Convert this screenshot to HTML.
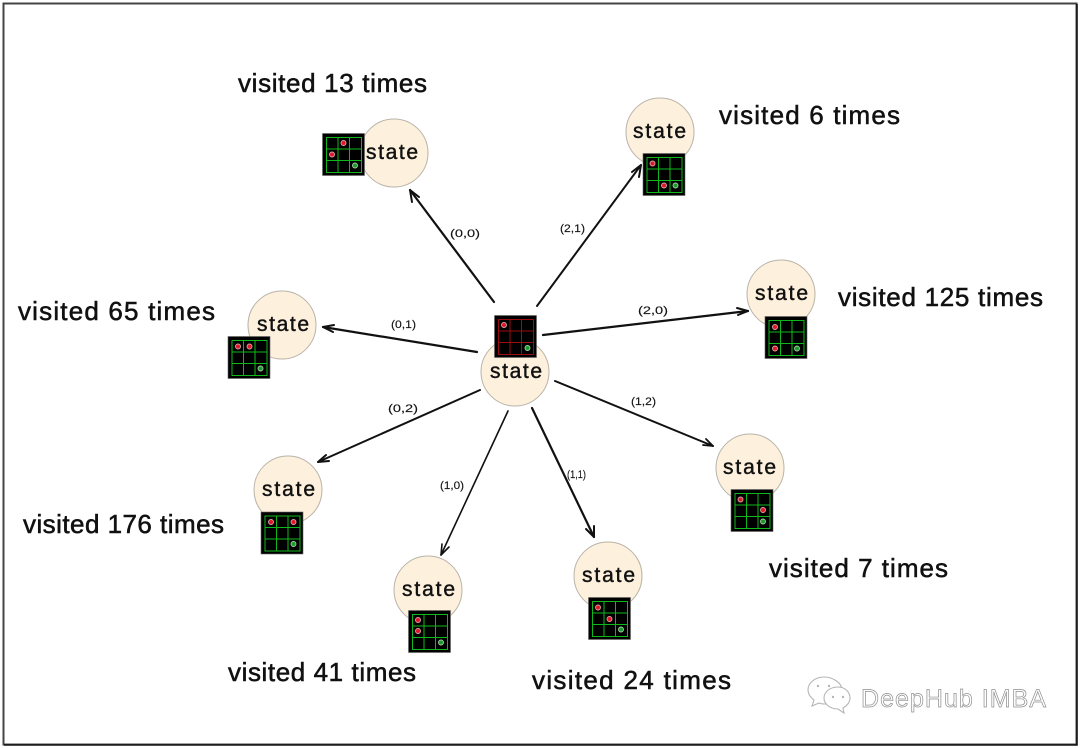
<!DOCTYPE html>
<html><head><meta charset="utf-8"><style>
html,body{margin:0;padding:0;background:#fff;width:1080px;height:748px;overflow:hidden}
svg{display:block}
text{font-family:"Liberation Sans",sans-serif;fill:#111}
.v{font-size:26px;stroke:#111;stroke-width:.55px}
.s{font-size:21px;stroke:#111;stroke-width:.45px}
.e{font-size:11px;stroke:#222;stroke-width:.15px}
.n{fill:#fdf1de;stroke:#b9b3a8;stroke-width:1}
.a{stroke:#111;fill:none;stroke-linecap:round;stroke-linejoin:round}
.r{fill:#e0162b;stroke:#d9a5a5;stroke-width:.9}
.g{fill:#1c9a2c;stroke:#a9cfa9;stroke-width:.9}
</style></head><body>
<svg width="1080" height="748" viewBox="0 0 1080 748" xmlns="http://www.w3.org/2000/svg">
<defs>
<g id="bg"><rect x="0" y="0" width="42" height="42" fill="#000" stroke="#666" stroke-width=".6"/>
<path d="M4 4h35v35H4zM15.500 4v35M27 4v35M4 15.500h35M4 27h35" fill="none" stroke="#0fb81a" stroke-width="1"/></g>
<g id="br"><rect x="0" y="0" width="42" height="42" fill="#000" stroke="#666" stroke-width=".6"/>
<path d="M4 4h35v35H4zM15.500 4v35M27 4v35M4 15.500h35M4 27h35" fill="none" stroke="#9c0d12" stroke-width="1"/></g>
</defs>
<rect width="1080" height="748" fill="#fff"/>
<path d="M3.500 3.500H1076.500V744.500H3.500Z" fill="none" stroke="#444" stroke-width="2"/>
<path d="M1077 4V745H4" fill="none" stroke="#111" stroke-width="1.600"/>

<!-- connectors -->
<path class="a" stroke-width="2.200" d="M494 302L410 190"/><path class="a" stroke-width="2" d="M419 197L410 190L412 202"/>
<path class="a" stroke-width="2" d="M537 306L641 165"/><path class="a" stroke-width="2" d="M632 172L641 165L639 177"/>
<path class="a" stroke-width="2.200" d="M543 335L748 311"/><path class="a" stroke-width="2" d="M737 308L748 311L738 315"/>
<path class="a" stroke-width="2.200" d="M477 352L323 327"/><path class="a" stroke-width="2" d="M334 325L323 327L333 332"/>
<path class="a" stroke-width="2" d="M480 390L318 462"/><path class="a" stroke-width="2" d="M326 455L318 462L329 461"/>
<path class="a" stroke-width="1.600" d="M508 411L441 555"/><path class="a" stroke-width="1.600" d="M442 544L441 555L449 547"/>
<path class="a" stroke-width="2.200" d="M532 408L594 537"/><path class="a" stroke-width="2" d="M586 529L594 537L594 526"/>
<path class="a" stroke-width="2" d="M555 381L713 446"/><path class="a" stroke-width="1.800" d="M703 445L713 446L706 439"/>

<text class="e" x="450" y="237" textLength="30" lengthAdjust="spacingAndGlyphs">(0,0)</text>
<text class="e" x="560" y="232" textLength="25" lengthAdjust="spacingAndGlyphs">(2,1)</text>
<text class="e" x="638" y="314" textLength="30" lengthAdjust="spacingAndGlyphs">(2,0)</text>
<text class="e" x="391" y="328" textLength="25" lengthAdjust="spacingAndGlyphs">(0,1)</text>
<text class="e" x="388" y="412" textLength="30" lengthAdjust="spacingAndGlyphs">(0,2)</text>
<text class="e" x="631" y="405" textLength="25" lengthAdjust="spacingAndGlyphs">(1,2)</text>
<text class="e" x="440" y="489" textLength="24" lengthAdjust="spacingAndGlyphs">(1,0)</text>
<text class="e" x="567" y="478" textLength="19" lengthAdjust="spacingAndGlyphs">(1,1)</text>

<!-- center -->
<circle class="n" cx="515" cy="372" r="34"/>
<g transform="translate(494.500,315.500)"><use href="#br"/><circle class="r" cx="9.500" cy="9.500" r="2.500"/><circle class="g" cx="33" cy="32.500" r="2.500"/></g>
<text class="s" x="490" y="378" textLength="52" lengthAdjust="spacing">state</text>

<!-- top left -->
<circle class="n" cx="394" cy="153" r="34"/>
<g transform="translate(322.500,133.500)"><use href="#bg"/><circle class="r" cx="21" cy="9.500" r="2.500"/><circle class="r" cx="9.500" cy="21" r="2.500"/><circle class="g" cx="32.500" cy="32" r="2.500"/></g>
<text class="s" x="366" y="159" textLength="52" lengthAdjust="spacing">state</text>

<!-- top right -->
<circle class="n" cx="660" cy="132" r="34"/>
<g transform="translate(643,153.500)"><use href="#bg"/><circle class="r" cx="9.500" cy="10" r="2.500"/><circle class="r" cx="21" cy="32" r="2.500"/><circle class="g" cx="32.500" cy="32" r="2.500"/></g>
<text class="s" x="633" y="138" textLength="53" lengthAdjust="spacing">state</text>

<!-- right -->
<circle class="n" cx="781" cy="294" r="34"/>
<g transform="translate(765,316.500)"><use href="#bg"/><circle class="r" cx="10" cy="10.500" r="2.500"/><circle class="r" cx="10" cy="32" r="2.500"/><circle class="g" cx="32" cy="32" r="2.500"/></g>
<text class="s" x="755" y="300" textLength="53" lengthAdjust="spacing">state</text>

<!-- left -->
<circle class="n" cx="282" cy="325" r="34"/>
<g transform="translate(228,336.500)"><use href="#bg"/><circle class="r" cx="10" cy="10" r="2.500"/><circle class="r" cx="21.500" cy="10" r="2.500"/><circle class="g" cx="32.500" cy="32" r="2.500"/></g>
<text class="s" x="257" y="331" textLength="52" lengthAdjust="spacing">state</text>

<!-- bottom left -->
<circle class="n" cx="288" cy="490" r="34"/>
<g transform="translate(261,512)"><use href="#bg"/><circle class="r" cx="10" cy="10" r="2.500"/><circle class="r" cx="32.500" cy="10" r="2.500"/><circle class="g" cx="32.500" cy="32" r="2.500"/></g>
<text class="s" x="262" y="496" textLength="53" lengthAdjust="spacing">state</text>

<!-- bottom 1,0 -->
<circle class="n" cx="428" cy="590" r="34"/>
<g transform="translate(408.500,610.500)"><use href="#bg"/><circle class="r" cx="9.500" cy="9.500" r="2.500"/><circle class="r" cx="9.500" cy="20.500" r="2.500"/><circle class="g" cx="32.500" cy="32" r="2.500"/></g>
<text class="s" x="402" y="596" textLength="53" lengthAdjust="spacing">state</text>

<!-- bottom 1,1 -->
<circle class="n" cx="608" cy="576" r="34"/>
<g transform="translate(588.500,597.500)"><use href="#bg"/><circle class="r" cx="9.500" cy="10" r="2.500"/><circle class="r" cx="21" cy="21.500" r="2.500"/><circle class="g" cx="32.500" cy="32" r="2.500"/></g>
<text class="s" x="582" y="582" textLength="53" lengthAdjust="spacing">state</text>

<!-- bottom right -->
<circle class="n" cx="750" cy="468" r="34"/>
<g transform="translate(731,489.500)"><use href="#bg"/><circle class="r" cx="9.500" cy="10" r="2.500"/><circle class="r" cx="32" cy="20.500" r="2.500"/><circle class="g" cx="32" cy="32" r="2.500"/></g>
<text class="s" x="723" y="474" textLength="53" lengthAdjust="spacing">state</text>

<!-- visit labels -->
<text class="v" x="238" y="92" textLength="189" lengthAdjust="spacing">visited 13 times</text>
<text class="v" x="719" y="124" textLength="181" lengthAdjust="spacing">visited 6 times</text>
<text class="v" x="838" y="306" textLength="205" lengthAdjust="spacing">visited 125 times</text>
<text class="v" x="18" y="320" textLength="197" lengthAdjust="spacing">visited 65 times</text>
<text class="v" x="23" y="533" textLength="201" lengthAdjust="spacing">visited 176 times</text>
<text class="v" x="769" y="577" textLength="179" lengthAdjust="spacing">visited 7 times</text>
<text class="v" x="228" y="681" textLength="188" lengthAdjust="spacing">visited 41 times</text>
<text class="v" x="532" y="689" textLength="199" lengthAdjust="spacing">visited 24 times</text>

<!-- watermark -->
<g fill="#fff" stroke="#b5b5b5" stroke-width="1.100">
<path d="M824 677c-9 0-16 6-16 13 0 4 2 7 6 10l-2 6 7-3c2 1 4 1 6 1 9 0 17-6 17-14 0-7-9-13-18-13z"/>
<path d="M838 687c-8 0-14 5-14 11 0 6 6 11 14 11l6 4-1-5c4-2 7-6 7-10 0-6-5-11-12-11z"/>
</g>
<g fill="#b5b5b5"><circle cx="818" cy="686" r="1.200"/><circle cx="829" cy="686" r="1.200"/><circle cx="833" cy="697" r="1.200"/><circle cx="843" cy="697" r="1.200"/></g>
<text x="861" y="707" font-size="25" textLength="185" lengthAdjust="spacing" style="fill:#fff;stroke:#8f8f8f;stroke-width:.7px">DeepHub IMBA</text>
</svg>
</body></html>
